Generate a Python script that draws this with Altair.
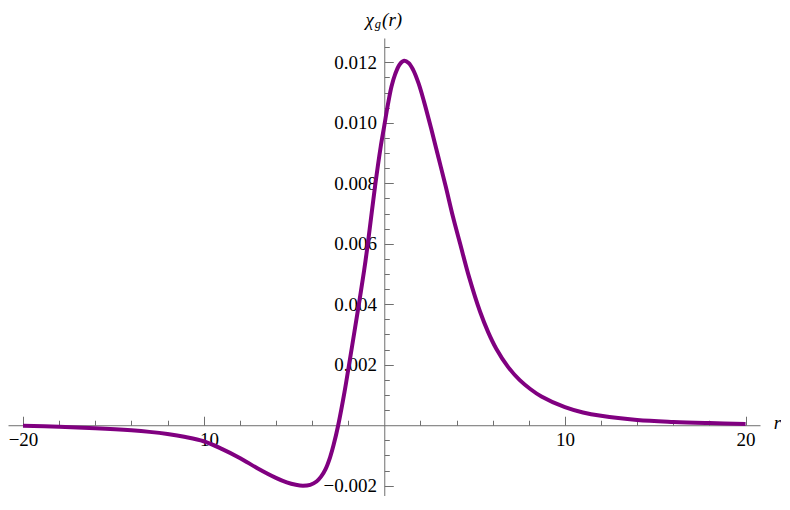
import altair as alt
import pandas as pd

# ---- data ----
R_VALUES = [-20, -18, -16, -14, -13, -12, -11, -10, -9, -8, -7, -6, -5.4, -4.9, -4.5,
            -4.1, -3.75, -3.5, -3.25, -3.0, -2.8, -2.55, -2.2, -1.95, -1.65, -1.38,
            -1.12, -0.91, -0.51, -0.2, 0.0, 0.2, 0.4, 0.6, 0.85, 1.1, 1.35, 1.6, 1.9,
            2.2, 2.6, 3.0, 3.4, 3.8, 4.2, 4.7, 5.3, 5.75, 6.2, 6.85, 7.5, 8.1, 8.7,
            10, 11, 12, 14, 16, 18, 20]
CHI_VALUES = [-0.00002, -0.00005, -0.0001, -0.00017, -0.00022, -0.00029, -0.00039,
              -0.00053, -0.00078, -0.00108, -0.00143, -0.00174, -0.00189, -0.00197,
              -0.0020, -0.00197, -0.00186, -0.0017, -0.00145, -0.00106, -0.00064,
              0.0, 0.0011, 0.002, 0.0031, 0.0041, 0.0051, 0.0060, 0.0079, 0.0092,
              0.0099, 0.0106, 0.0112, 0.0116, 0.01193, 0.01205, 0.01198, 0.01175,
              0.0113, 0.0107, 0.0098, 0.00885, 0.0079, 0.0069, 0.0060, 0.00489,
              0.00376, 0.00308, 0.00253, 0.00193, 0.00149, 0.00119, 0.00095,
              0.000595, 0.00042, 0.00031, 0.000175, 0.00011, 0.00007, 0.00004]

X_MAJOR = [-20, -10, 10, 20]
X_MINOR = [-18, -16, -14, -12, -8, -6, -4, -2, 2, 4, 6, 8, 12, 14, 16, 18]
Y_MAJOR = [-0.002, 0.002, 0.004, 0.006, 0.008, 0.010, 0.012]
Y_MINOR = [-0.0015, -0.001, -0.0005, 0.0005, 0.001, 0.0015, 0.0025, 0.003, 0.0035,
           0.0045, 0.005, 0.0055, 0.0065, 0.007, 0.0075, 0.0085, 0.009, 0.0095,
           0.0105, 0.011, 0.0115, 0.0125]

X_DOMAIN = [-20.83, 20.8]
Y_DOMAIN = [-0.00234, 0.012803]

W = 752
H = 458
x0 = W * (0 - X_DOMAIN[0]) / (X_DOMAIN[1] - X_DOMAIN[0])
y0 = H * (Y_DOMAIN[1] - 0) / (Y_DOMAIN[1] - Y_DOMAIN[0])

FONT = "Liberation Serif, Times New Roman, Times, DejaVu Serif, serif"
GRAY = "#6f6f6f"
PURPLE = "#800080"

df = pd.DataFrame({"r": R_VALUES, "chi": CHI_VALUES})
xs = alt.Scale(domain=X_DOMAIN, nice=False, zero=False)
ys = alt.Scale(domain=Y_DOMAIN, nice=False, zero=False)

common = dict(grid=False, tickColor=GRAY, tickWidth=1, domainColor=GRAY, domainWidth=1,
              labelFont=FONT, labelFontSize=19, labelColor="black",
              titleFont=FONT, titleColor="black", titleFontWeight="normal",
              titleFontStyle="italic", titleAngle=0, labelFlush=False,
              labelOverlap=False, labelBound=False)

xa_major = alt.Axis(orient="top", offset=-y0, values=X_MAJOR, tickSize=9,
                    domain=True, labels=False, title=None, **common)
xa_minor = alt.Axis(orient="top", offset=-y0, values=X_MINOR, tickSize=5,
                    domain=False, labels=False, title=None, **common)
xa_labels = alt.Axis(orient="bottom", offset=y0 - H, values=X_MAJOR, ticks=False,
                     tickSize=0, domain=False, format="d", labelPadding=20.7,
                     labelBaseline="alphabetic", title="r", titleFontSize=19,
                     titleX=769, titleY=3, titleAlign="center",
                     titleBaseline="alphabetic", **common)

ya_major = alt.Axis(orient="right", offset=x0 - W, values=Y_MAJOR, tickSize=9,
                    domain=True, labels=False, title="g", titleFontSize=12.5,
                    titleX=-10, titleY=-10.7, titleAlign="left",
                    titleBaseline="alphabetic", **common)
ya_minor = alt.Axis(orient="right", offset=x0 - W, values=Y_MINOR, tickSize=5,
                    domain=False, labels=False, title="(r)", titleFontSize=19,
                    titleX=-2.7, titleY=-12.8, titleAlign="left",
                    titleBaseline="alphabetic", **common)
ya_labels = alt.Axis(orient="left", offset=-x0, values=Y_MAJOR, ticks=False,
                     tickSize=0, domain=False, format=".3f", labelPadding=7.7,
                     labelBaseline="middle", title="χ", titleFontSize=19,
                     titleX=-11, titleY=-12.8, titleAlign="right",
                     titleBaseline="alphabetic", **common)

base = alt.Chart(df)

ghost1 = base.mark_line(strokeOpacity=0).encode(
    x=alt.X("r:Q", scale=xs, axis=xa_labels),
    y=alt.Y("chi:Q", scale=ys, axis=ya_labels),
)
ghost2 = base.mark_line(strokeOpacity=0).encode(
    x=alt.X("r:Q", scale=xs, axis=xa_minor),
    y=alt.Y("chi:Q", scale=ys, axis=ya_minor),
)
curve = base.mark_line(color=PURPLE, strokeWidth=4, interpolate="catmull-rom").encode(
    x=alt.X("r:Q", scale=xs, axis=xa_major),
    y=alt.Y("chi:Q", scale=ys, axis=ya_major),
)

chart = alt.layer(ghost1, ghost2, curve).resolve_axis(
    x="independent", y="independent"
).properties(
    width=W, height=H,
    autosize=alt.AutoSizeParams(type="none"),
    padding={"left": 0, "top": 30, "right": 21, "bottom": 0},
).configure_view(strokeWidth=0)

chart.save("out.html", embed_options={"renderer": "svg", "actions": False})
